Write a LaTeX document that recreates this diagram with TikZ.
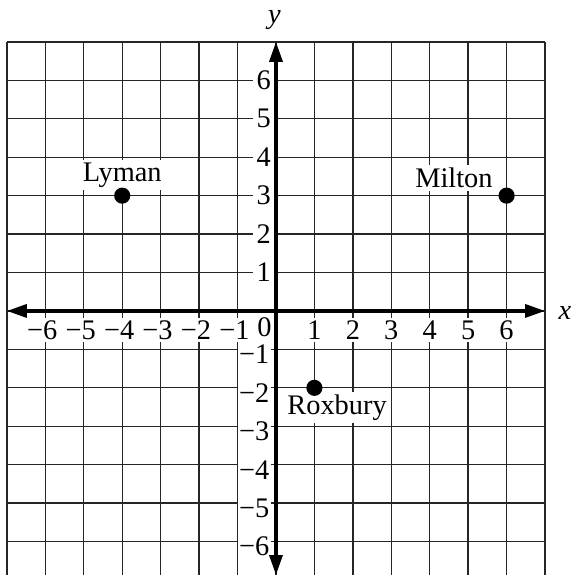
\documentclass[tikz,border=0pt]{standalone}
\usepackage{fontspec}
\setmainfont{Liberation Serif}
\usetikzlibrary{arrows.meta,positioning}
\pgfdeclarelayer{foreground}
\pgfsetlayers{main,foreground}

\tikzset{
  lbl/.style={fill=white, inner xsep=1pt, inner ysep=2pt, font=\fontsize{21}{25}\selectfont},
  town/.style={circle, fill=black, inner sep=0pt, minimum size=0.42cm},
  axis/.style={line width=2.4pt, {Triangle[length=0.52cm,width=0.34cm]}-{Triangle[length=0.52cm,width=0.34cm]}}
}

\begin{document}
\begin{tikzpicture}
\useasboundingbox (-7.18,-6.87) rectangle (7.75,8.09);
% grid
\draw [line width=1pt, draw=black!85] (-7,-6.87) grid (7,7);
% tick labels
\foreach \k in {1,...,6} {
  \node [lbl] (xp\k) at (\k,-0.5) {\k};
  \node [lbl] (xn\k) at (-\k-0.08,-0.5) {−\k};
  \node [lbl, anchor=east, inner xsep=0.08cm] (yp\k) at (-0.05,\k) {\k};
  \node [lbl, anchor=east] (yn\k) at (-0.13,-\k-0.13) {−\k};
}
\node [lbl] (zero) at (-0.3,-0.43) {0};
% axes
\coordinate (xl) at (-7,0);
\coordinate (xr) at (7,0);
\coordinate (yb) at (0,-6.87);
\coordinate (yt) at (0,7);
\draw [axis] (xl) -- (xr);
\draw [axis] (yb) -- (yt);
\node [font=\fontsize{21}{25}\selectfont\itshape] (xlab) at (7.52,-0.05) {x};
\node [font=\fontsize{21}{25}\selectfont\itshape] (ylab) at (-0.04,7.57) {y};
% towns
\begin{pgfonlayer}{foreground}
\node [town] (lyman) at (-4,3) {};
\node [town] (milton) at (6,3) {};
\node [town] (roxbury) at (1,-2) {};
\end{pgfonlayer}
\node [lbl, above=-0.08cm of lyman] (lymanlbl) {Lyman};
\node [lbl, above left=-0.03cm and 0.17cm of milton] (miltonlbl) {Milton};
\node [lbl, below=-0.12cm of roxbury, xshift=0.59cm] (roxburylbl) {Roxbury};
\end{tikzpicture}
\end{document}
